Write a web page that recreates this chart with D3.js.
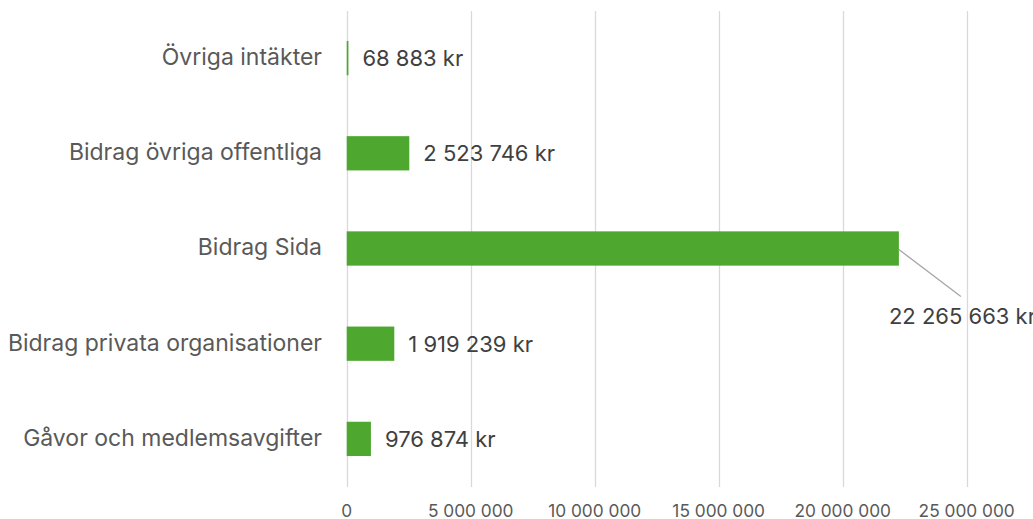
<!DOCTYPE html>
<html>
<head>
<meta charset="utf-8">
<script src="https://cdn.jsdelivr.net/npm/d3@7"></script>
<style>
  body { margin: 0; background: #fff; overflow: hidden; }
  text { font-family: Inter, sans-serif; }
</style>
</head>
<body>
<div id="chart"></div>
<script>
// data, top to bottom as shown
var categories = ["Övriga intäkter", "Bidrag övriga offentliga", "Bidrag Sida", "Bidrag privata organisationer", "Gåvor och medlemsavgifter"];
var values = [68883, 2523746, 22265663, 1919239, 976874];
var ticks = [0, 5000000, 10000000, 15000000, 20000000, 25000000];

const width = 1033,
    height = 519,
    green = "#4ea72e";

var locale = d3.formatLocale({ decimal: ",", thousands: " ", grouping: [3], currency: ["", ""] });
var fmt = locale.format(",.0f");

var x = d3.scaleLinear()
    .domain([0, 25000000])
    .range([346.7, 966.7]);

var y = d3.scaleBand()
    .domain(categories)
    .range([10.5, 486.5])
    .paddingInner(0.64)
    .paddingOuter(0.32);

const svg = d3.select("#chart").append("svg")
    .attr("width", width)
    .attr("height", height);

// gridlines
svg.append("g")
    .selectAll("line")
    .data(ticks)
    .enter().append("line")
    .attr("x1", function(d) { return Math.round(x(d)) + 0.5; })
    .attr("x2", function(d) { return Math.round(x(d)) + 0.5; })
    .attr("y1", 11)
    .attr("y2", 487)
    .attr("stroke", "#d9d9d9")
    .attr("stroke-width", 1.3);

// tick labels
svg.append("g")
    .selectAll("text")
    .data(ticks)
    .enter().append("text")
    .attr("x", function(d) { return x(d); })
    .attr("y", 511)
    .attr("dy", "0.35em")
    .attr("text-anchor", "middle")
    .attr("fill", "#595959")
    .style("font-size", "17.3px")
    .text(function(d) { return fmt(d); });

// category labels
svg.append("g")
    .selectAll("text")
    .data(categories)
    .enter().append("text")
    .attr("x", 322)
    .attr("y", function(d) { return y(d) + y.bandwidth() / 2; })
    .attr("dy", "0.3em")
    .attr("text-anchor", "end")
    .attr("fill", "#595959")
    .style("font-size", "23px")
    .text(function(d) { return d; });

// bars
svg.append("g")
    .selectAll("rect")
    .data(values)
    .enter().append("rect")
    .attr("x", x(0))
    .attr("y", function(d, i) { return y(categories[i]); })
    .attr("width", function(d) { return x(d) - x(0); })
    .attr("height", y.bandwidth())
    .attr("fill", green);

// value labels (the long bar gets a leader line)
var maxV = d3.max(values);
values.forEach(function(v, i) {
    var cy = y(categories[i]) + y.bandwidth() / 2;
    if (v === maxV) {
        svg.append("line")
            .attr("x1", x(v))
            .attr("y1", cy + 1)
            .attr("x2", x(v) + 62)
            .attr("y2", cy + 48)
            .attr("stroke", "#a6a6a6")
            .attr("stroke-width", 1.3);
        svg.append("text")
            .attr("x", x(v) - 10)
            .attr("y", cy + 67.5)
            .attr("dy", "0.36em")
            .attr("fill", "#404040")
            .style("font-size", "22px")
            .text(fmt(v) + " kr");
    } else {
        svg.append("text")
            .attr("x", x(v) + 14)
            .attr("y", cy)
            .attr("dy", "0.36em")
            .attr("fill", "#404040")
            .style("font-size", "22px")
            .text(fmt(v) + " kr");
    }
});
</script>
</body>
</html>
